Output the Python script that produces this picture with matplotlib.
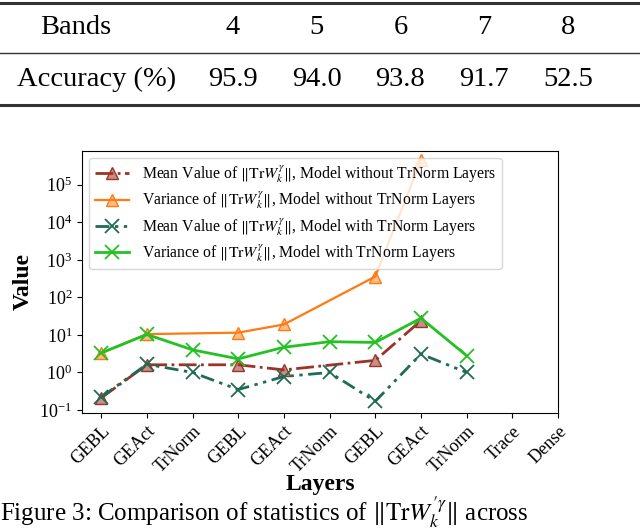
import matplotlib
matplotlib.use("Agg")
import matplotlib.pyplot as plt
import numpy as np
from matplotlib.colors import to_rgba
from matplotlib.lines import Line2D
from matplotlib.ticker import NullLocator

plt.rcParams['font.family'] = ['Liberation Serif', 'DejaVu Serif']
plt.rcParams['mathtext.fontset'] = 'stix'

# table above the chart
bands = ['4', '5', '6', '7', '8']
accuracy = ['95.9', '94.0', '93.8', '91.7', '52.5']

# chart data
layers = ['GEBL', 'GEAct', 'TrNorm', 'GEBL', 'GEAct', 'TrNorm', 'GEBL', 'GEAct', 'TrNorm', 'Trace', 'Dense']
idx_no_trnorm = [0, 1, 3, 4, 6, 7]
mean_no_trnorm = [0.21, 1.6, 1.6, 1.17, 2.1, 24]
var_no_trnorm = [3.3, 10.5, 11.5, 19, 360, 4.5e5]
idx_trnorm = [0, 1, 2, 3, 4, 5, 6, 7, 8]
mean_trnorm = [0.22, 1.65, 1.0, 0.35, 0.78, 1.0, 0.17, 3.1, 1.0]
var_trnorm = [3.3, 10.3, 4.0, 2.3, 4.7, 6.6, 6.3, 28, 2.8]

leg = r'$\|\mathrm{Tr}W_k^{\gamma}\|$'

fig = plt.figure(figsize=(6.4, 5.31), dpi=100)

def fy(py):
    return 1 - py / 531.0

# table
fig.add_artist(Line2D([0, 1], [fy(3), fy(3)], color='#333333', lw=2.2))
fig.add_artist(Line2D([0, 1], [fy(53), fy(53)], color='#333333', lw=1.0))
fig.add_artist(Line2D([0, 1], [fy(105), fy(105)], color='#333333', lw=2.2))
fig.text(76 / 640, fy(28), 'Bands', ha='center', va='center', fontsize=20.5)
fig.text(97 / 640, fy(79), 'Accuracy (%)', ha='center', va='center', fontsize=20.5)
for i in range(len(bands)):
    x = (233 + i * 83.7) / 640
    fig.text(x, fy(28), bands[i], ha='center', va='center', fontsize=20.5)
    fig.text(x, fy(79), accuracy[i], ha='center', va='center', fontsize=20.5)

ax = fig.add_axes([82 / 640, fy(413), (558 - 82) / 640, (413 - 151) / 531])

brown = '#9c3328'
orange = '#ff7a10'
teal = '#1f6b55'
green = '#22c222'

ax.plot(idx_no_trnorm, mean_no_trnorm, color=brown, ls='-.', lw=2, marker='^', ms=9,
        mfc=to_rgba(brown, 0.55), mec=brown, label='Mean Value of ' + leg + ', Model without TrNorm Layers')
ax.plot(idx_no_trnorm, var_no_trnorm, color=orange, ls='-', lw=1.6, marker='^', ms=9,
        mfc=to_rgba(orange, 0.5), mec=orange, label='Variance of ' + leg + ', Model without TrNorm Layers')
ax.plot(idx_trnorm, mean_trnorm, color=teal, ls=(0, (5, 2, 1.2, 2, 1.2, 2)), lw=2, marker='x', ms=10,
        mew=1.3, label='Mean Value of ' + leg + ', Model with TrNorm Layers')
ax.plot(idx_trnorm, var_trnorm, color=green, ls='-', lw=2, marker='x', ms=10,
        mew=1.3, label='Variance of ' + leg + ', Model with TrNorm Layers')

ax.set_yscale('log')
ax.set_ylim(10 ** -1.08, 10 ** 5.9)
ax.set_xlim(-0.42, 10.0)
ax.yaxis.set_minor_locator(NullLocator())
ax.set_xticks(range(len(layers)))
ax.set_xticklabels(layers, rotation=45, ha='right', rotation_mode='anchor', fontsize=13)
ax.tick_params(axis='y', labelsize=13)
ax.set_xlabel('Layers', fontsize=17, fontweight='bold', labelpad=-1)
ax.set_ylabel('Value', fontsize=17, fontweight='bold', labelpad=4)

ax.legend(loc='upper left', fontsize=11.3, borderaxespad=0.45, handlelength=2.2,
          labelspacing=0.3, borderpad=0.35)

fig.text(0, fy(530.5), r'Figure 3: Comparison of statistics of $\|\mathrm{Tr}W_k^{\prime\gamma}\|$ across',
         ha='left', va='bottom', fontsize=18)

fig.savefig('out.png', dpi=100)
